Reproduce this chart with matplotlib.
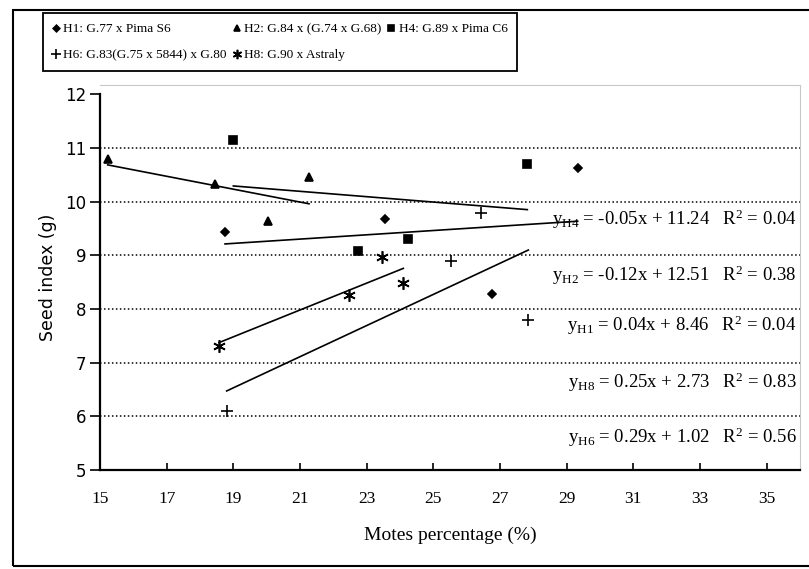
import numpy as np
import matplotlib
matplotlib.use("Agg")
import matplotlib.pyplot as plt
from matplotlib.patches import Rectangle

plt.rcParams['mathtext.default'] = 'regular'

# values
h1_x = [18.75, 23.55, 26.75, 29.33]
h1_y = [9.43, 9.67, 8.28, 10.62]
h2_x = [15.23, 18.45, 20.05, 21.27]
h2_y = [10.80, 10.32, 9.64, 10.45]
h4_x = [19.0, 22.73, 24.23, 27.82]
h4_y = [11.15, 9.07, 9.30, 10.69]
h6_x = [18.8, 25.53, 26.43, 27.85]
h6_y = [6.10, 8.89, 9.79, 7.79]
h8_x = [18.57, 22.48, 23.47, 24.1]
h8_y = [7.31, 8.26, 8.97, 8.48]

names = ["H1", "H2", "H4", "H6", "H8"]
legend_labels = ["H1: G.77 x Pima S6", "H2: G.84 x (G.74 x G.68)", "H4: G.89 x Pima C6",
                 "H6: G.83(G.75 x 5844) x G.80", "H8: G.90 x Astraly"]
slopes = [0.04, -0.12, -0.05, 0.29, 0.25]
intercepts = [8.46, 12.51, 11.24, 1.02, 2.73]
r2 = [0.04, 0.38, 0.04, 0.56, 0.83]

# order of the equation boxes top to bottom and their y position (data units)
eq_order = ["H4", "H2", "H1", "H8", "H6"]
eq_y = [9.66, 8.63, 7.70, 6.64, 5.61]

xs = [h1_x, h2_x, h4_x, h6_x, h8_x]
ys = [h1_y, h2_y, h4_y, h6_y, h8_y]
markers = ["D", "^", "s", "+", (6, 2, 0)]
msizes = [4.5, 6, 5.5, 9, 9]

fig = plt.figure(figsize=(8.09, 5.69), dpi=100)
ax = fig.add_axes([100 / 809, 1 - 470 / 569, 700 / 809, 385 / 569])

serif = "Liberation Serif"

for y in [6, 7, 8, 9, 10, 11]:
    ax.axhline(y, color="black", lw=1.1, ls=(0, (1, 1.6)), zorder=1)

handles = []
for i in range(5):
    h, = ax.plot(xs[i], ys[i], ls="none", marker=markers[i], ms=msizes[i],
                 color="black", mew=1.2, zorder=3)
    handles.append(h)
    xl = np.array([min(xs[i]), max(xs[i])])
    ax.plot(xl, slopes[i] * xl + intercepts[i], color="black", lw=1.2, zorder=2)

for name, yy in zip(eq_order, eq_y):
    k = names.index(name)
    sign = "+" if intercepts[k] >= 0 else "-"
    txt = (f"y$_{{{name}}}$ = {slopes[k]:.2f}x {sign} {abs(intercepts[k]):.2f}   "
           f"R$^{{2}}$ = {r2[k]:.2f}")
    ax.text(35.9, yy, txt, ha="right", va="center", fontsize=13.5,
            family=serif, zorder=4)

ax.set_xlim(15, 36)
ax.set_ylim(5, 12.17)
ax.set_xticks(range(15, 36, 2))
ax.set_yticks(range(5, 13))
ax.tick_params(axis="x", direction="in", length=5, width=1.2, pad=15, labelsize=12.5)
ax.tick_params(axis="y", direction="out", length=7, width=1.2, pad=3, labelsize=12)
for lab in ax.get_xticklabels():
    lab.set_family(serif)

for s in ["left", "bottom"]:
    ax.spines[s].set_linewidth(1.6)
ax.spines["left"].set_bounds(5, 12)
for s in ["top", "right"]:
    ax.spines[s].set_color("#c8c8c8")
    ax.spines[s].set_linewidth(0.8)

ax.set_xlabel("Motes percentage (%)", family=serif, fontsize=14, labelpad=14)
ax.set_ylabel("Seed index (g)", fontsize=12.5, labelpad=6)

order = [0, 3, 1, 4, 2]
leg = fig.legend([handles[i] for i in order], [legend_labels[i] for i in order],
                 ncol=3, loc="upper left", bbox_to_anchor=(43 / 809, 1 - 13 / 569),
                 borderaxespad=0, prop={"family": serif, "size": 9.5}, fancybox=False,
                 edgecolor="black", framealpha=1, handlelength=0.5,
                 handletextpad=0.3, columnspacing=0.5, borderpad=0.75,
                 labelspacing=1.05, markerscale=0.75)
leg.get_frame().set_linewidth(1.3)

fig.add_artist(Rectangle((13 / 809, 3 / 569), 810 / 809, 556 / 569,
                         transform=fig.transFigure, fill=False,
                         edgecolor="black", lw=1.5))

fig.savefig("out.png", dpi=100)
